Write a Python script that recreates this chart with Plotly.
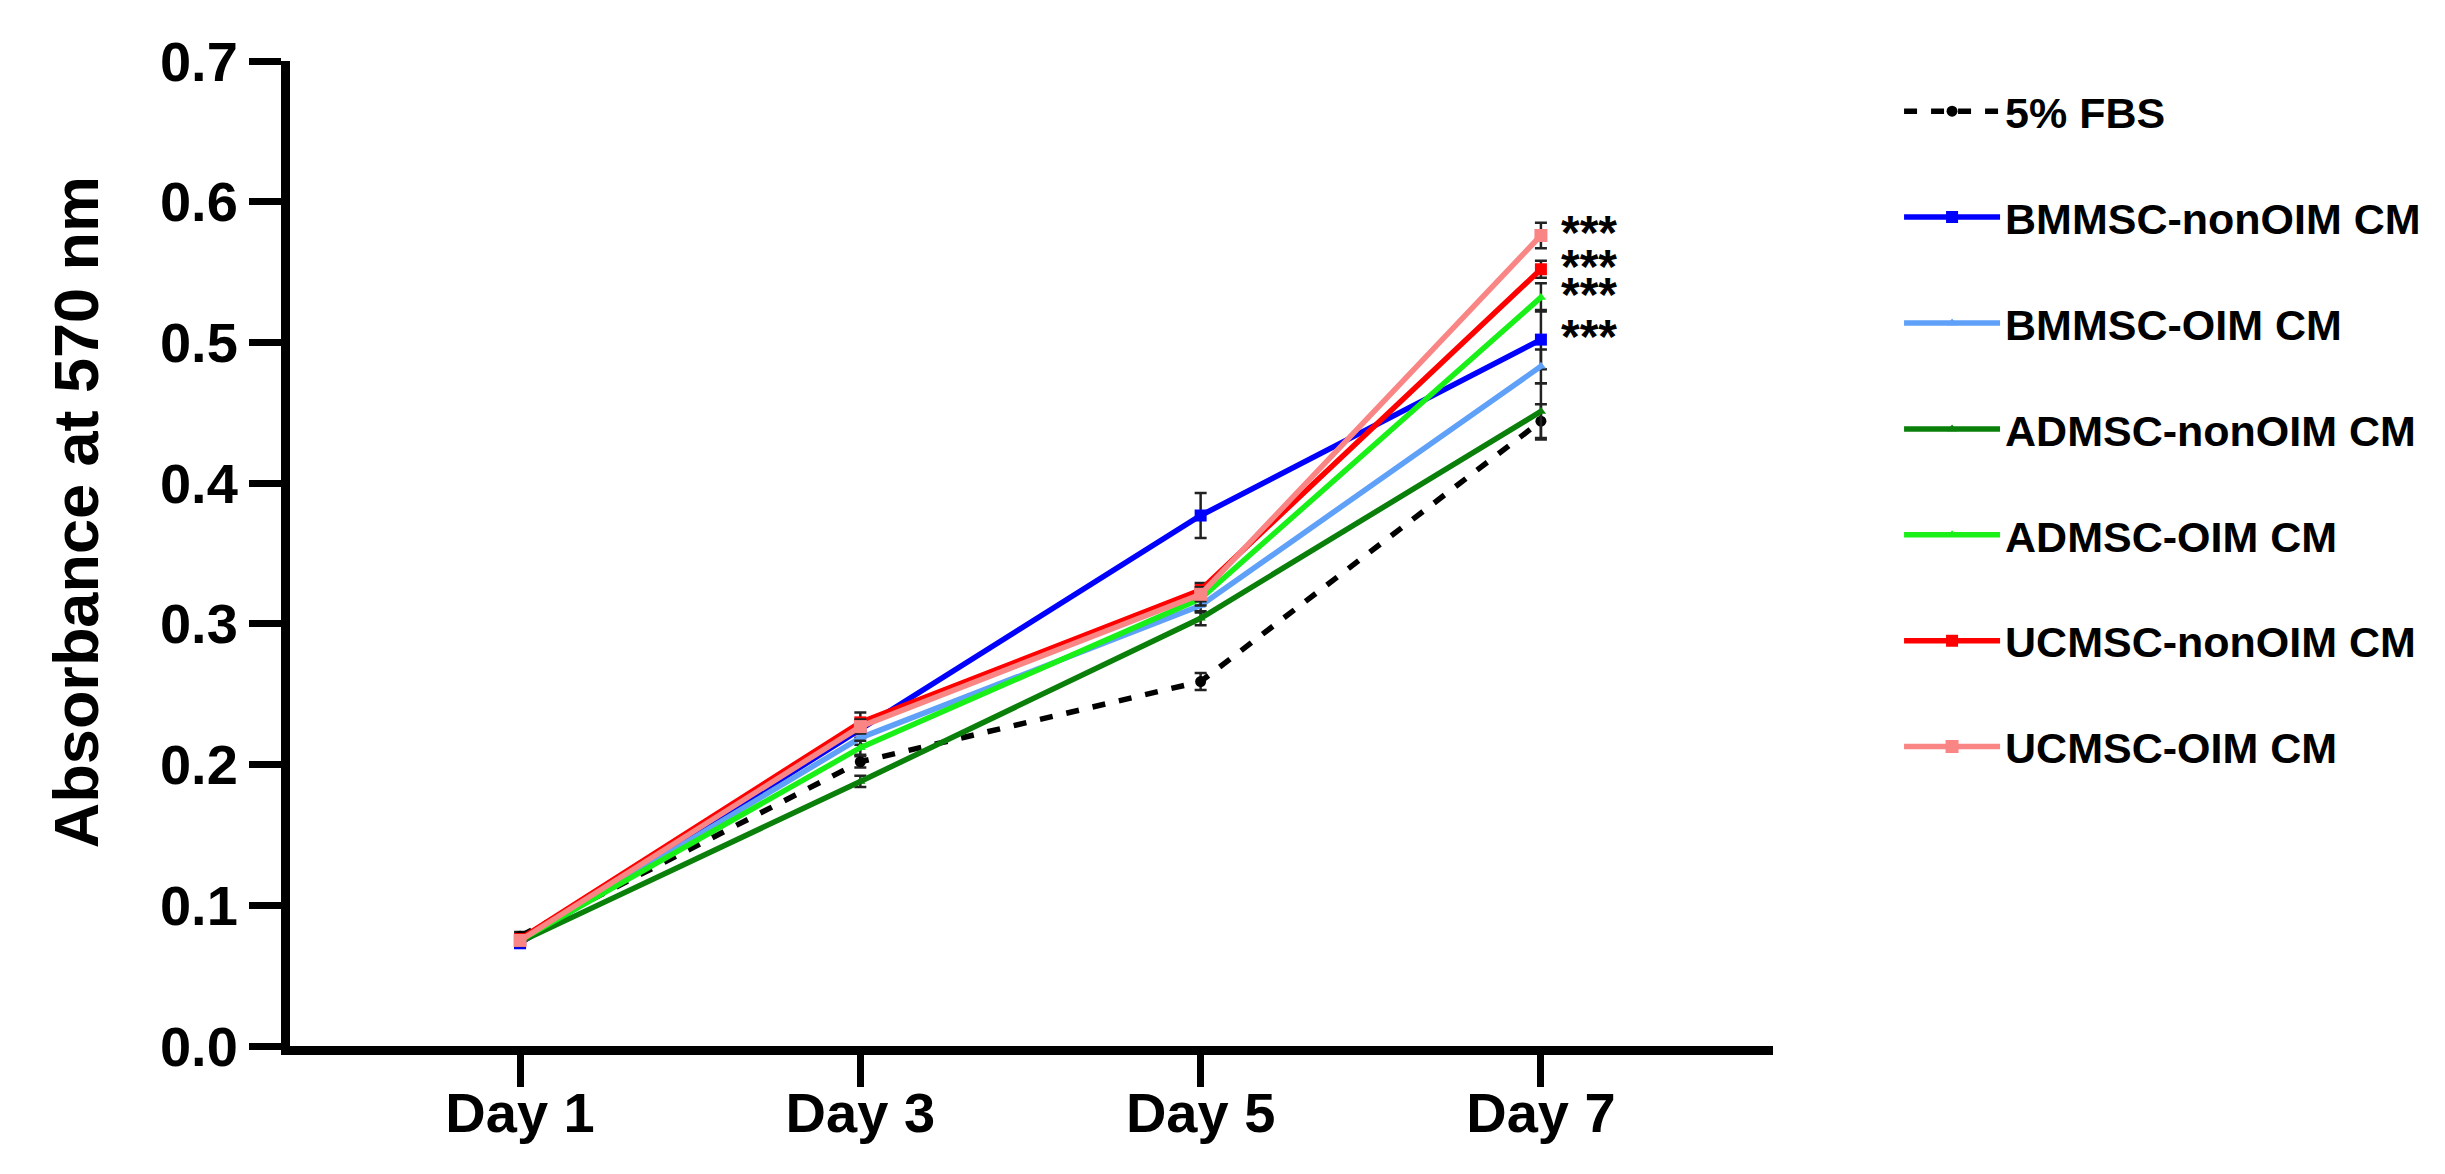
import plotly.graph_objects as go

days = ["Day 1", "Day 3", "Day 5", "Day 7"]

names = ["5% FBS", "BMMSC-nonOIM CM", "BMMSC-OIM CM", "ADMSC-nonOIM CM",
         "ADMSC-OIM CM", "UCMSC-nonOIM CM", "UCMSC-OIM CM"]

fbs = [0.078, 0.202, 0.259, 0.444]
fbs_err = [0.003, 0.004, 0.006, 0.012]
bm_non = [0.073, 0.225, 0.377, 0.502]
bm_non_err = [0.003, 0.006, 0.016, 0.021]
bm_oim = [0.074, 0.219, 0.313, 0.483]
bm_oim_err = [0.003, 0.005, 0.005, 0.012]
ad_non = [0.074, 0.188, 0.304, 0.451]
ad_non_err = [0.002, 0.004, 0.005, 0.020]
ad_oim = [0.075, 0.212, 0.318, 0.532]
ad_oim_err = [0.002, 0.005, 0.005, 0.010]
uc_non = [0.076, 0.230, 0.324, 0.552]
uc_non_err = [0.003, 0.007, 0.005, 0.006]
uc_oim = [0.075, 0.227, 0.321, 0.576]
uc_oim_err = [0.003, 0.005, 0.005, 0.009]

values = [fbs, bm_non, bm_oim, ad_non, ad_oim, uc_non, uc_oim]
errors = [fbs_err, bm_non_err, bm_oim_err, ad_non_err, ad_oim_err, uc_non_err, uc_oim_err]
colors = ["#000000", "#0000FF", "#5FA0F8", "#0A800A", "#18F018", "#FF0000", "#FA8585"]
symbols = ["circle", "square", "triangle-up", "triangle-up", "triangle-up", "square", "square"]
msizes = [11, 12, 9, 9, 9, 12, 13]
dashes = ["13px,14px", "solid", "solid", "solid", "solid", "solid", "solid"]

# significance marks at Day 7
sig_series = [6, 5, 4, 1]
sig_text = "***"

FONT = "Liberation Sans"

fig = go.Figure()
for i, (nm, v, e, c, s, ms, d) in enumerate(zip(names, values, errors, colors, symbols, msizes, dashes)):
    fig.add_trace(go.Scatter(
        x=days, y=v, name=nm, mode="lines+markers",
        legendgroup=nm,
        line=dict(color=c, width=5.5, dash=d),
        marker=dict(color=c, symbol=s, size=ms),
        error_y=dict(type="data", array=e, visible=True, color="#222222", thickness=2.5, width=6),
    ))

for idx in sig_series:
    fig.add_annotation(x=days[3], y=values[idx][3], xref="x", yref="y",
                       text=sig_text, showarrow=False, xanchor="left", xshift=18, yshift=3,
                       font=dict(family=FONT, size=48, color="black", weight="bold"))

# y axis title
fig.add_annotation(x=-0.1443, y=0.542, xref="paper", yref="paper", text="Absorbance at 570 nm",
                   textangle=-90, showarrow=False, xanchor="center", yanchor="middle",
                   font=dict(family=FONT, size=63, color="black", weight="bold"))

fig.update_layout(
    width=2445, height=1174,
    margin=dict(l=282, r=680, t=53, b=136),
    paper_bgcolor="white", plot_bgcolor="white",
    font=dict(family=FONT, color="black", weight="bold"),
    showlegend=True,
    legend=dict(x=1.085, y=0.984, xanchor="left", yanchor="top",
                font=dict(family=FONT, size=43, color="black", weight="bold"),
                tracegroupgap=47, itemwidth=96, bgcolor="rgba(0,0,0,0)",
                maxheight=1150),
    xaxis=dict(type="category", range=[-0.676, 3.682], showline=True, linewidth=9, linecolor="black",
               ticks="outside", ticklen=32, tickwidth=7, tickcolor="black", showgrid=False,
               zeroline=False, ticklabelstandoff=-22,
               tickfont=dict(family=FONT, size=56, color="black", weight="bold")),
    yaxis=dict(range=[0, 0.7], tickvals=[0, 0.1, 0.2, 0.3, 0.4, 0.5, 0.6, 0.7],
               ticktext=["0.0", "0.1", "0.2", "0.3", "0.4", "0.5", "0.6", "0.7"],
               showline=True, linewidth=9, linecolor="black",
               ticks="outside", ticklen=32, tickwidth=7, tickcolor="black", showgrid=False,
               zeroline=False, tickfont=dict(family=FONT, size=56, color="black", weight="bold")),
)

fig.write_html("out.html")
